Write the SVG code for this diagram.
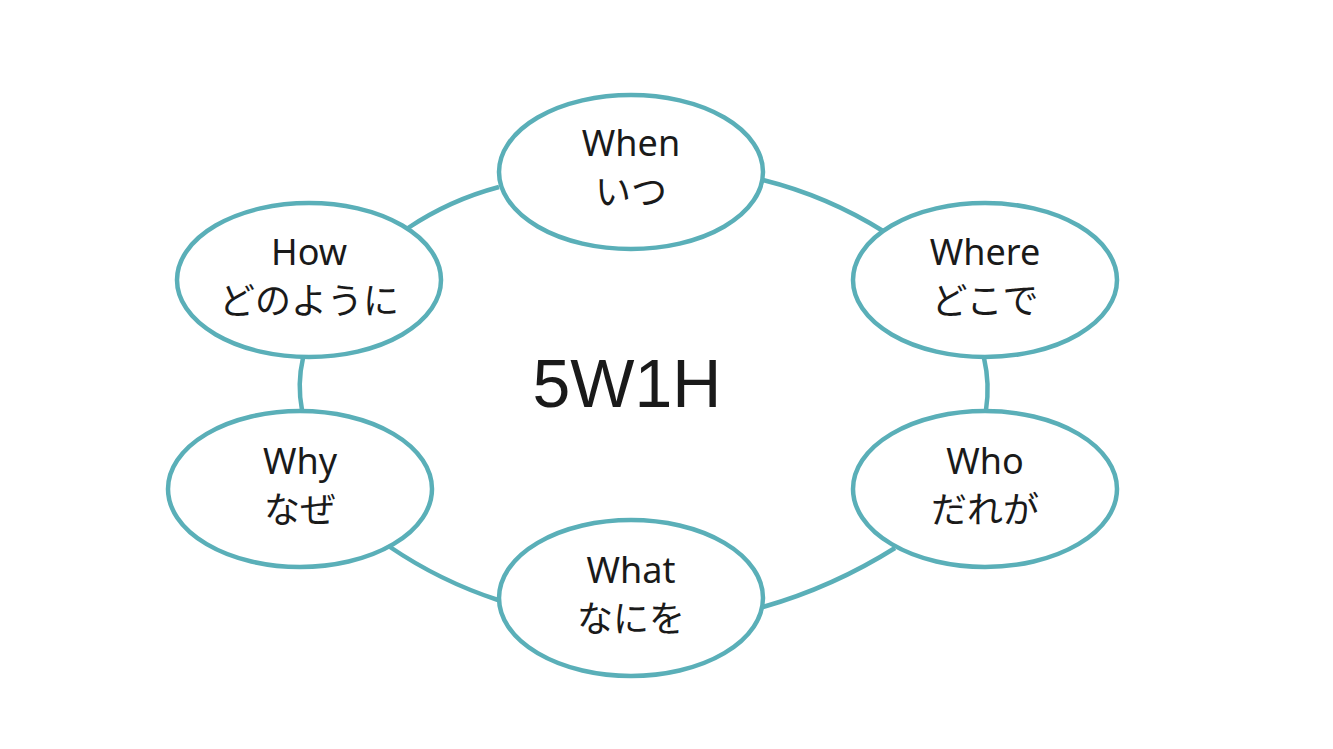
<svg xmlns="http://www.w3.org/2000/svg" width="1333" height="749" viewBox="0 0 1333 749">
<style>
.node ellipse{fill:#ffffff;stroke:#5aafb8;stroke-width:4.5}
.conn path{fill:none;stroke:#5aafb8;stroke-width:4.5}
.lbl{font-family:"Noto Sans","Noto Sans CJK JP",sans-serif;font-size:36px;fill:#1a1a1a;text-anchor:middle}
.title{font-family:"Liberation Sans",Arial,sans-serif;font-size:68px;fill:#1a1a1a;text-anchor:middle}
</style>
<rect width="1333" height="749" fill="#ffffff"/>
<g id="connectors" class="conn">
<path d="M408,228 Q450,200 499,187"/>
<path d="M763,180 Q827,196 883,231"/>
<path d="M984,358 Q990,384 986,410"/>
<path d="M303,358 Q297,384 302,410"/>
<path d="M390,547 Q440,581 498,600"/>
<path d="M763,607 Q833,587 895,548"/>
</g>
<g id="center">
<text class="title" x="627" y="407">5W1H</text>
</g>
<g id="when" class="node">
<ellipse cx="631" cy="172" rx="132" ry="77"/>
<text class="lbl" x="631" y="156">When</text>
<text class="lbl" x="631" y="205">いつ</text>
</g>
<g id="where" class="node">
<ellipse cx="985" cy="280" rx="132" ry="77"/>
<text class="lbl" x="985" y="265">Where</text>
<text class="lbl" x="985" y="314">どこで</text>
</g>
<g id="how" class="node">
<ellipse cx="309" cy="280" rx="132" ry="77"/>
<text class="lbl" x="309" y="265">How</text>
<text class="lbl" x="309" y="314">どのように</text>
</g>
<g id="why" class="node">
<ellipse cx="300" cy="489" rx="132" ry="78"/>
<text class="lbl" x="300" y="474">Why</text>
<text class="lbl" x="300" y="523">なぜ</text>
</g>
<g id="who" class="node">
<ellipse cx="985" cy="489" rx="132" ry="78"/>
<text class="lbl" x="985" y="474">Who</text>
<text class="lbl" x="985" y="523">だれが</text>
</g>
<g id="what" class="node">
<ellipse cx="631" cy="598" rx="132" ry="78"/>
<text class="lbl" x="631" y="583">What</text>
<text class="lbl" x="631" y="632">なにを</text>
</g>
</svg>
